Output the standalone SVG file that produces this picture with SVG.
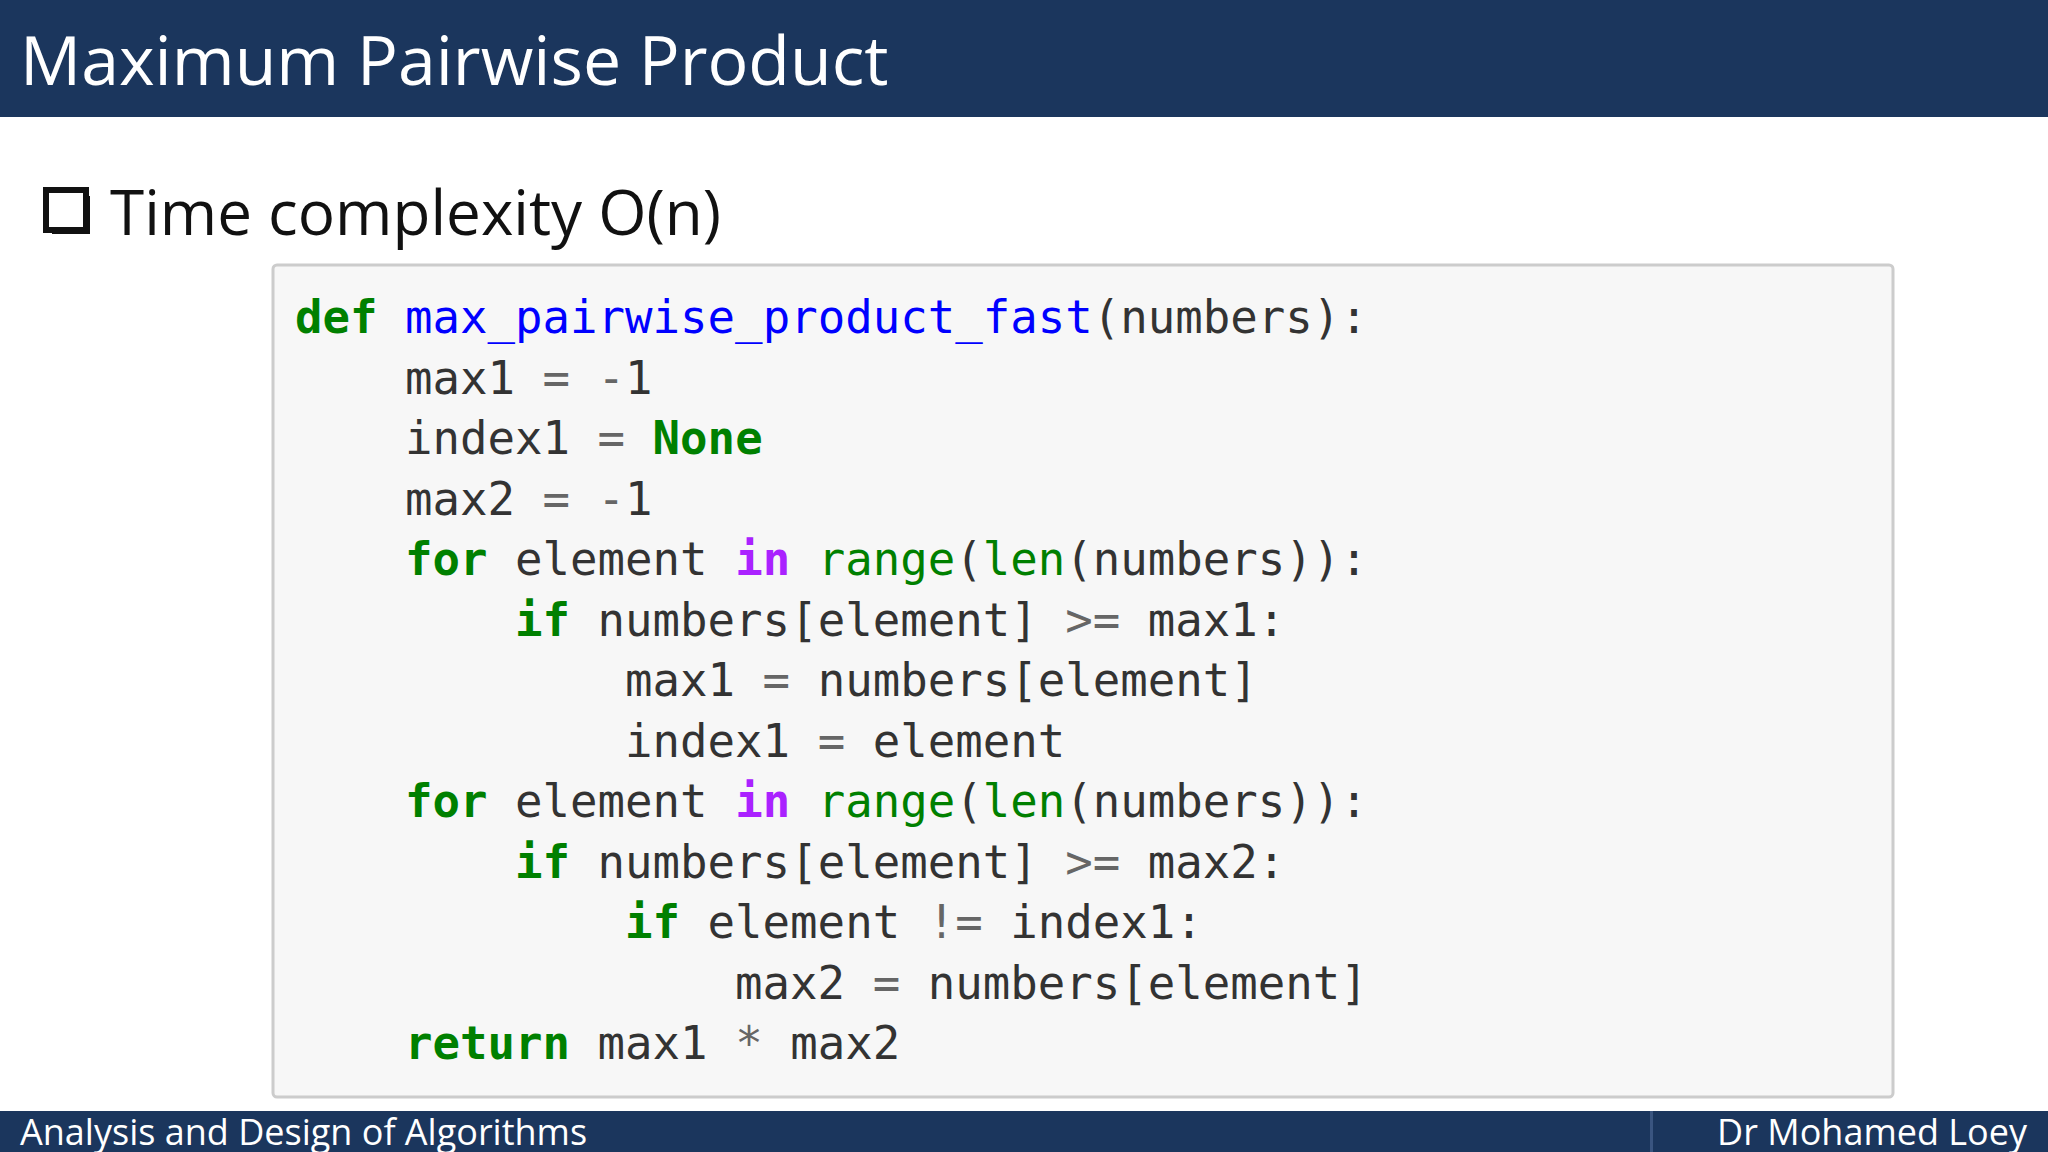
<svg xmlns="http://www.w3.org/2000/svg" width="2048" height="1152" viewBox="0 0 2048 1152">
<style>
.code{font-family:"DejaVu Sans Mono",monospace;font-size:45.7px;fill:#333;white-space:pre}
.k{fill:#008000;font-weight:bold}
.b{fill:#008000}
.f{fill:#0000ff}
.p{fill:#aa22ff;font-weight:bold}
.o{fill:#666}
</style>
<rect width="2048" height="1152" fill="#fff"/>
<g id="header"><rect x="0" y="0" width="2048" height="117" fill="#1b365d"/>
<text x="20" y="85" font-family="Open Sans, sans-serif" font-size="68" fill="#fff">Maximum Pairwise Product</text></g>
<g id="bullet"><rect x="46" y="190" width="40" height="40" fill="none" stroke="#111" stroke-width="6"/>
<rect x="86" y="196" width="4" height="38" fill="#111"/><rect x="52" y="230" width="38" height="4" fill="#111"/>
<text x="110" y="235" font-family="Open Sans, sans-serif" font-size="62" fill="#111">Time complexity O(n)</text></g>
<g id="codebox"><rect x="273" y="265" width="1620" height="832" rx="4" fill="#f7f7f7" stroke="#ccc" stroke-width="3"/>
<text class="code" xml:space="preserve"><tspan x="295" y="333"><tspan class="k">def</tspan> <tspan class="f">max_pairwise_product_fast</tspan>(numbers):</tspan><tspan x="295" y="393.5">    max1 <tspan class="o">=</tspan> <tspan class="o">-</tspan>1</tspan><tspan x="295" y="454">    index1 <tspan class="o">=</tspan> <tspan class="k">None</tspan></tspan><tspan x="295" y="514.5">    max2 <tspan class="o">=</tspan> <tspan class="o">-</tspan>1</tspan><tspan x="295" y="575">    <tspan class="k">for</tspan> element <tspan class="p">in</tspan> <tspan class="b">range</tspan>(<tspan class="b">len</tspan>(numbers)):</tspan><tspan x="295" y="635.5">        <tspan class="k">if</tspan> numbers[element] <tspan class="o">&gt;=</tspan> max1:</tspan><tspan x="295" y="696">            max1 <tspan class="o">=</tspan> numbers[element]</tspan><tspan x="295" y="756.5">            index1 <tspan class="o">=</tspan> element</tspan><tspan x="295" y="817">    <tspan class="k">for</tspan> element <tspan class="p">in</tspan> <tspan class="b">range</tspan>(<tspan class="b">len</tspan>(numbers)):</tspan><tspan x="295" y="877.5">        <tspan class="k">if</tspan> numbers[element] <tspan class="o">&gt;=</tspan> max2:</tspan><tspan x="295" y="938">            <tspan class="k">if</tspan> element <tspan class="o">!=</tspan> index1:</tspan><tspan x="295" y="998.5">                max2 <tspan class="o">=</tspan> numbers[element]</tspan><tspan x="295" y="1059">    <tspan class="k">return</tspan> max1 <tspan class="o">*</tspan> max2</tspan></text></g>
<g id="footer"><rect x="0" y="1111" width="2048" height="41" fill="#1b365d"/>
<rect x="1650" y="1111" width="3" height="41" fill="#3a5580"/>
<text x="20" y="1145" font-family="Open Sans, sans-serif" font-size="36" fill="#fff">Analysis and Design of Algorithms</text>
<text x="2027" y="1145" text-anchor="end" font-family="Open Sans, sans-serif" font-size="36" fill="#fff">Dr Mohamed Loey</text></g>
</svg>
